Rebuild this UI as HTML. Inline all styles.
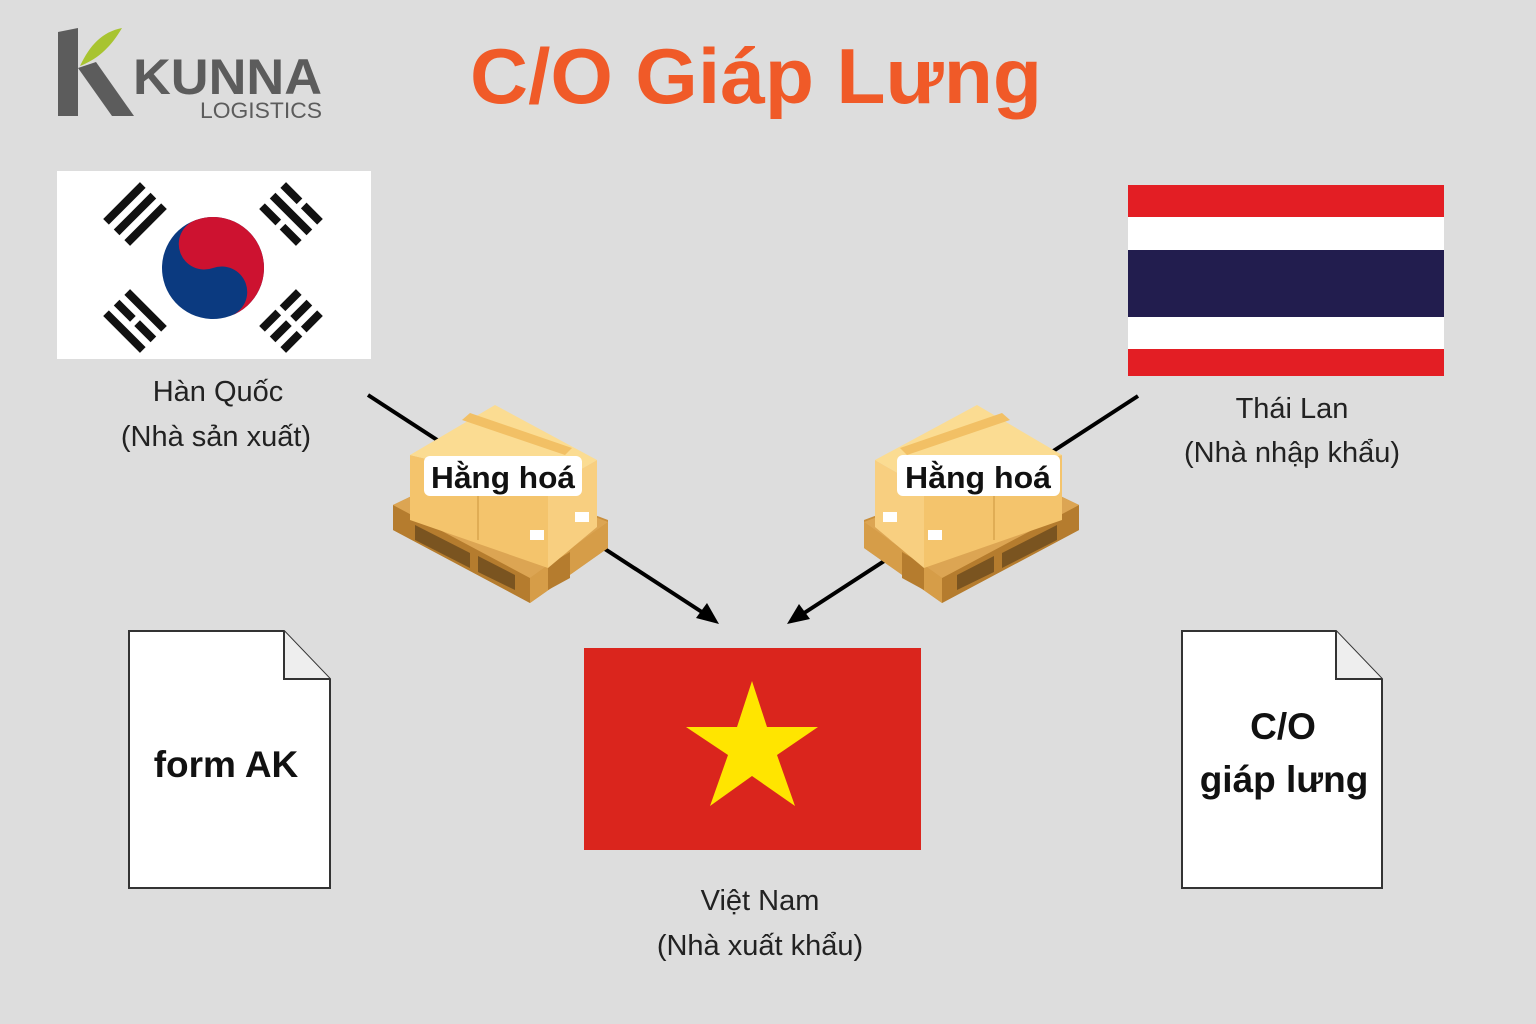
<!DOCTYPE html>
<html><head><meta charset="utf-8"><style>
html,body{margin:0;padding:0;background:#dddddd;}
svg{display:block}
text{font-family:"Liberation Sans",sans-serif;}
</style></head><body>
<svg width="1536" height="1024" viewBox="0 0 1536 1024" xmlns="http://www.w3.org/2000/svg">
<defs>
<g id="pallet">
  <polygon points="393,505 470,468 608,520 608,548 530,603 393,530" fill="#c98f3c"/>
  <polygon points="393,505 530,578 530,603 393,530" fill="#b57c2e"/>
  <polygon points="530,578 608,522 608,548 530,603" fill="#d69d48"/>
  <polygon points="393,505 470,468 608,522 530,578" fill="#dca553"/>
  <polygon points="415,525 470,553 470,568 415,540" fill="#7a5420"/>
  <polygon points="478,556 515,575 515,590 478,572" fill="#7a5420"/>
  <polygon points="548,565 570,552 570,578 548,590" fill="#b57c2e"/>
  <polygon points="410,455 548,488 548,568 410,520" fill="#f4c46c"/>
  <polygon points="548,488 597,460 597,527 548,568" fill="#f8cf80"/>
  <polygon points="495,405 597,460 548,488 410,455" fill="#fbdc92"/>
  <polygon points="470,413 572,448 565,455 462,420" fill="#f2c065"/>
  <line x1="478" y1="470" x2="478" y2="540" stroke="#e0ad55" stroke-width="2"/>
  <rect x="530" y="530" width="14" height="10" fill="#fff"/>
  <rect x="575" y="512" width="14" height="10" fill="#fff"/>
</g>
</defs>

<polygon points="58,32 78,28 78,116 58,116" fill="#5c5c5c"/>
<polygon points="78,68 96,62 134,116 112,116" fill="#5c5c5c"/>
<path d="M80,66 C90,45 102,32 122,28 C112,45 100,58 80,66 Z" fill="#a8c430"/>
<text x="133" y="94" font-size="50" font-weight="bold" fill="#5c5c5c" textLength="189" lengthAdjust="spacingAndGlyphs">KUNNA</text>
<text x="200" y="118" font-size="22" fill="#5c5c5c" textLength="122" lengthAdjust="spacingAndGlyphs">LOGISTICS</text>

<text x="470" y="103" font-size="78" font-weight="bold" fill="#f05a28" textLength="572" lengthAdjust="spacingAndGlyphs">C/O Giáp Lưng</text>

<rect x="57" y="171" width="314" height="188" fill="#ffffff"/>
<g transform="translate(213,268) rotate(70)">
  <circle r="51" fill="#0b3a80"/>
  <path d="M-51,0 A51,51 0 0 1 51,0 A25.5,25.5 0 0 0 0,0 A25.5,25.5 0 0 1 -51,0 Z" fill="#cd1230"/>
</g>
<g fill="#111">
  <g transform="translate(135,214) rotate(-45)">
    <rect x="-26" y="-19" width="52" height="8"/><rect x="-26" y="-4" width="52" height="8"/><rect x="-26" y="11" width="52" height="8"/>
  </g>
  <g transform="translate(291,214) rotate(45)">
    <rect x="-26" y="-19" width="23" height="8"/><rect x="3" y="-19" width="23" height="8"/>
    <rect x="-26" y="-4" width="52" height="8"/>
    <rect x="-26" y="11" width="23" height="8"/><rect x="3" y="11" width="23" height="8"/>
  </g>
  <g transform="translate(135,321) rotate(45)">
    <rect x="-26" y="-19" width="52" height="8"/>
    <rect x="-26" y="-4" width="23" height="8"/><rect x="3" y="-4" width="23" height="8"/>
    <rect x="-26" y="11" width="52" height="8"/>
  </g>
  <g transform="translate(291,321) rotate(-45)">
    <rect x="-26" y="-19" width="23" height="8"/><rect x="3" y="-19" width="23" height="8"/>
    <rect x="-26" y="-4" width="23" height="8"/><rect x="3" y="-4" width="23" height="8"/>
    <rect x="-26" y="11" width="23" height="8"/><rect x="3" y="11" width="23" height="8"/>
  </g>
</g>

<rect x="1128" y="185" width="316" height="191" fill="#e31e24"/>
<rect x="1128" y="217" width="316" height="33" fill="#ffffff"/>
<rect x="1128" y="250" width="316" height="67" fill="#221d4e"/>
<rect x="1128" y="317" width="316" height="32" fill="#ffffff"/>

<rect x="584" y="648" width="337" height="202" fill="#da251d"/>
<polygon points="752,681 767,727 818,727 777,755 795,806 752,776 710,806 728,755 686,727 737,727" fill="#ffe500"/>

<line x1="368" y1="395" x2="708" y2="616" stroke="#000" stroke-width="4"/>
<polygon points="719,624 696,618 707,603" fill="#000"/>
<line x1="1138" y1="396" x2="798" y2="617" stroke="#000" stroke-width="4"/>
<polygon points="787,624 799,604 810,619" fill="#000"/>

<use href="#pallet"/>
<use href="#pallet" transform="translate(1472,0) scale(-1,1)"/>
<rect x="424" y="456" width="158" height="40" rx="6" fill="#ffffff"/>
<text x="503" y="488" font-size="31" font-weight="bold" fill="#111" text-anchor="middle" textLength="144" lengthAdjust="spacingAndGlyphs">Hằng hoá</text>
<rect x="897" y="455" width="163" height="41" rx="6" fill="#ffffff"/>
<text x="978" y="488" font-size="31" font-weight="bold" fill="#111" text-anchor="middle" textLength="146" lengthAdjust="spacingAndGlyphs">Hằng hoá</text>

<g font-size="29" fill="#222" text-anchor="middle">
<text x="218" y="401">Hàn Quốc</text>
<text x="216" y="446">(Nhà sản xuất)</text>
<text x="1292" y="418">Thái Lan</text>
<text x="1292" y="462">(Nhà nhập khẩu)</text>
<text x="760" y="910">Việt Nam</text>
<text x="760" y="955">(Nhà xuất khẩu)</text>
</g>

<path d="M129,631 L284,631 L330,679 L330,888 L129,888 Z" fill="#fff" stroke="#333" stroke-width="2"/>
<path d="M284,631 L284,679 L330,679" fill="#eee" stroke="#333" stroke-width="2"/>
<text x="226" y="777" font-size="37" font-weight="bold" fill="#111" text-anchor="middle">form AK</text>

<path d="M1182,631 L1336,631 L1382,679 L1382,888 L1182,888 Z" fill="#fff" stroke="#333" stroke-width="2"/>
<path d="M1336,631 L1336,679 L1382,679" fill="#eee" stroke="#333" stroke-width="2"/>
<text x="1283" y="739" font-size="37" font-weight="bold" fill="#111" text-anchor="middle">C/O</text>
<text x="1284" y="792" font-size="37" font-weight="bold" fill="#111" text-anchor="middle">giáp lưng</text>
</svg>
</body></html>
